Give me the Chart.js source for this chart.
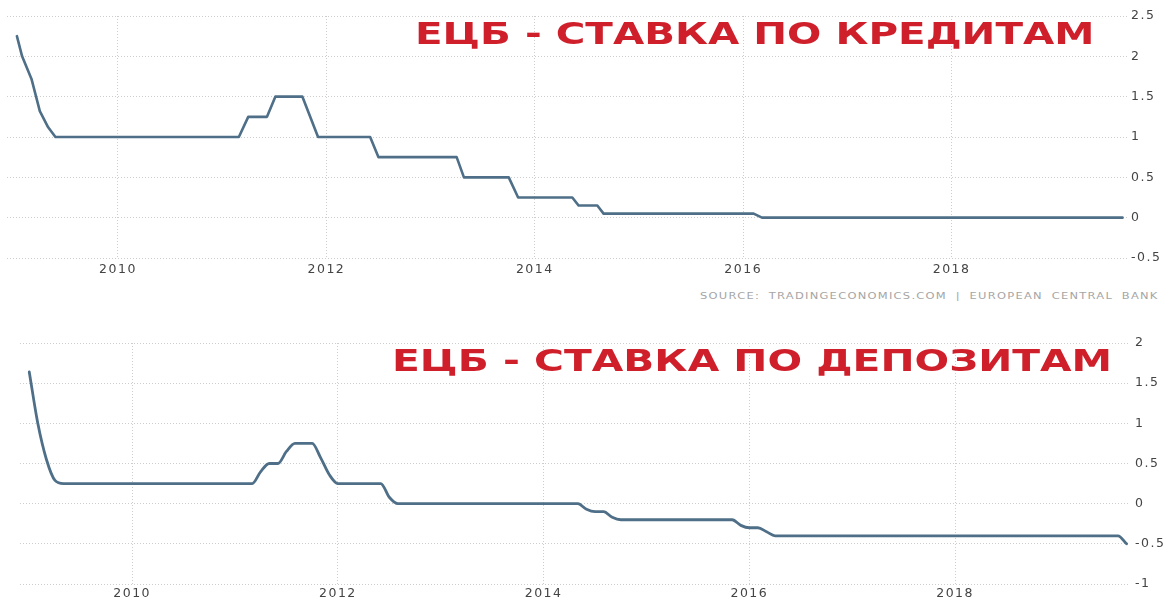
<!DOCTYPE html>
<html><head><meta charset="utf-8">
<script src="https://cdn.jsdelivr.net/npm/chart.js@4/dist/chart.umd.min.js"></script>
<style>
html,body{margin:0;padding:0;background:#fff;width:1173px;height:601px;overflow:hidden;position:relative}
canvas{position:absolute;left:0}
.t{position:absolute;font-family:"DejaVu Sans",sans-serif;font-weight:bold;color:#cf1f2b;white-space:nowrap;line-height:1;transform-origin:0 0}
.src{position:absolute;font-family:"DejaVu Sans",sans-serif;font-size:9px;letter-spacing:1px;word-spacing:3px;color:#a5a5a5;white-space:nowrap;line-height:1;transform-origin:0 0}
</style></head>
<body>
<canvas id="c1" width="1173" height="282" style="top:0"></canvas>
<canvas id="c2" width="1173" height="274" style="top:327px"></canvas>
<div class="t" data-w="680" style="left:415px;top:18px;font-size:31px">ЕЦБ - СТАВКА ПО КРЕДИТАМ</div>
<div class="t" data-w="720" style="left:392px;top:346px;font-size:30px">ЕЦБ - СТАВКА ПО ДЕПОЗИТАМ</div>
<div class="src" data-w="458" style="left:700px;top:292px">SOURCE: TRADINGECONOMICS.COM | EUROPEAN CENTRAL BANK</div>
<script>
// ---- data ----
const xTickYears = [2010, 2012, 2014, 2016, 2018];

const creditYears = [2009.03, 2009.08, 2009.17, 2009.25, 2009.33, 2009.40, 2011.16, 2011.25, 2011.43, 2011.51, 2011.77, 2011.92, 2012.42, 2012.50, 2013.25, 2013.32, 2013.75, 2013.84, 2014.36, 2014.42, 2014.60, 2014.66, 2016.10, 2016.18, 2019.64];
const creditRates = [2.25, 2.0, 1.72, 1.32, 1.12, 1.0, 1.0, 1.25, 1.25, 1.5, 1.5, 1.0, 1.0, 0.75, 0.75, 0.5, 0.5, 0.25, 0.25, 0.15, 0.15, 0.05, 0.05, 0.0, 0.0];
const creditTicks = [-0.5, 0, 0.5, 1, 1.5, 2, 2.5];

const depositYears = [2009.0, 2009.083, 2009.167, 2009.25, 2009.333, 2011.167, 2011.25, 2011.333, 2011.417, 2011.5, 2011.583, 2011.75, 2011.833, 2011.917, 2012.0, 2012.417, 2012.5, 2012.583, 2014.333, 2014.417, 2014.5, 2014.583, 2014.667, 2014.75, 2015.833, 2015.917, 2016.0, 2016.083, 2016.167, 2016.25, 2019.583, 2019.667];
const depositRates = [1.64, 1.0, 0.55, 0.29, 0.25, 0.25, 0.4, 0.5, 0.5, 0.65, 0.75, 0.75, 0.57, 0.36, 0.25, 0.25, 0.08, 0.0, 0.0, -0.07, -0.1, -0.1, -0.17, -0.2, -0.2, -0.27, -0.3, -0.3, -0.35, -0.4, -0.4, -0.5];
const depositTicks = [-1, -0.5, 0, 0.5, 1, 1.5, 2];

// ---- helpers ----
const spacing = {
  id: 'spacing',
  beforeDraw(chart) { chart.ctx.letterSpacing = '1.5px'; },
  afterDraw(chart) { chart.ctx.letterSpacing = '0px'; }
};

function makeChart(id, years, rates, yTicks, cfg) {
  const pts = years.map((x, i) => ({ x: x, y: rates[i] }));
  return new Chart(document.getElementById(id), {
    type: 'line',
    data: { datasets: [{
      data: pts,
      borderColor: '#4e6f87',
      borderWidth: cfg.lw,
      pointRadius: 0,
      tension: 0,
      cubicInterpolationMode: cfg.smooth ? 'monotone' : 'default',
      borderCapStyle: 'round',
      borderJoinStyle: 'round',
      fill: false
    }]},
    options: {
      responsive: false,
      animation: false,
      layout: { padding: { left: cfg.left, top: cfg.top, right: 0, bottom: 0 } },
      plugins: { legend: { display: false }, tooltip: { enabled: false } },
      scales: {
        x: {
          type: 'linear', min: cfg.xmin, max: cfg.xmax,
          afterBuildTicks: s => { s.ticks = xTickYears.map(v => ({ value: v })); },
          afterFit: s => { s.height = cfg.xh; },
          grid: { color: '#cdcdcd', lineWidth: 1, drawTicks: false },
          border: { display: false, dash: [1, 2] },
          ticks: { padding: cfg.xpad, color: '#444', font: { family: 'DejaVu Sans', size: 12.5 }, callback: v => String(v), maxRotation: 0 }
        },
        y: {
          position: 'right', min: yTicks[0], max: yTicks[yTicks.length - 1],
          afterBuildTicks: s => { s.ticks = yTicks.map(v => ({ value: v })); },
          afterFit: s => { s.width = cfg.yw; },
          grid: { color: '#cdcdcd', lineWidth: 1, drawTicks: false },
          border: { display: false, dash: [1, 2] },
          ticks: { padding: cfg.ypad, color: '#444', font: { family: 'DejaVu Sans', size: 12.5 }, callback: v => String(v) }
        }
      }
    },
    plugins: [spacing]
  });
}

makeChart('c1', creditYears, creditRates, creditTicks,
  { lw: 2.6, smooth: false, left: 7, top: 16, xmin: 2008.935, xmax: 2019.683, xh: 24, yw: 46, xpad: 4, ypad: 4 });
makeChart('c2', depositYears, depositRates, depositTicks,
  { lw: 2.8, smooth: true, left: 20, top: 16, xmin: 2008.91, xmax: 2019.70, xh: 17, yw: 43, xpad: 2, ypad: 5 });

document.querySelectorAll('[data-w]').forEach(el => {
  const w = el.offsetWidth;
  el.style.transform = 'scaleX(' + (parseFloat(el.dataset.w) / w) + ')';
});
</script>
</body></html>
